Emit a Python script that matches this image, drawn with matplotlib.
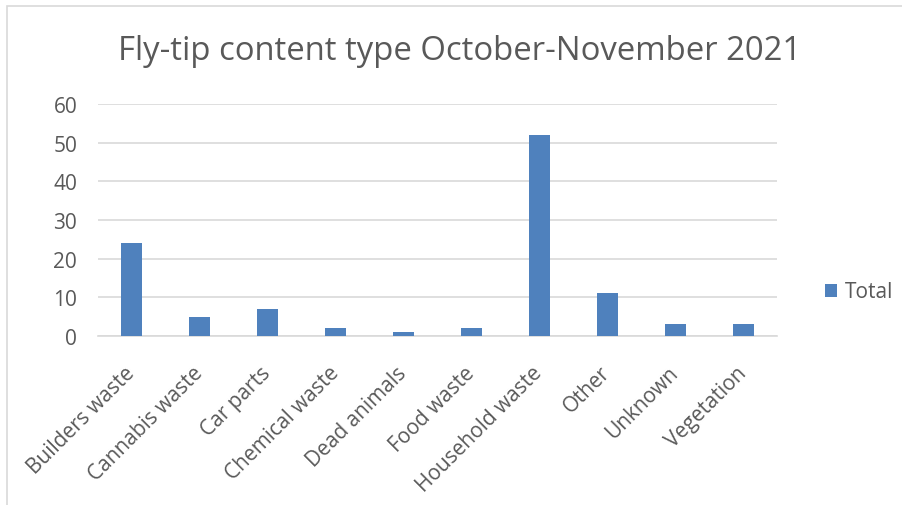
import matplotlib
matplotlib.use("Agg")
from matplotlib import pyplot as plt
from matplotlib.patches import Rectangle

categories = ['Builders waste', 'Cannabis waste', 'Car parts', 'Chemical waste',
              'Dead animals', 'Food waste', 'Household waste', 'Other',
              'Unknown', 'Vegetation']
totals = [24, 5, 7, 2, 1, 2, 52, 11, 3, 3]
yticks = [0, 10, 20, 30, 40, 50, 60]

grey = '#595959'
blue = '#4F81BD'
plt.rcParams['font.family'] = ['Open Sans', 'DejaVu Sans']

fig = plt.figure(figsize=(9.03, 5.06), dpi=100)
ax = fig.add_axes([98 / 903, 1 - 337 / 506, 679 / 903, 232 / 506])

x = range(len(categories))
ax.bar(x, totals, width=0.31, color=blue, label='Total', zorder=3)

ax.set_xlim(-0.5, len(categories) - 0.5)
ax.set_ylim(0, 60)
ax.set_yticks(yticks)
ax.yaxis.grid(True, color='#D9D9D9', linewidth=1.2, zorder=0)
for s in ['top', 'right', 'left']:
    ax.spines[s].set_visible(False)
ax.spines['bottom'].set_color('#D9D9D9')
ax.spines['bottom'].set_linewidth(1.2)
ax.tick_params(axis='both', length=0, labelcolor=grey, labelsize=15)
ax.tick_params(axis='y', pad=15)
ax.set_xticks(list(x))
ax.set_xticklabels(categories, rotation=45, ha='right', va='center',
                   rotation_mode='anchor')
ax.tick_params(axis='x', pad=24)

fig.text(0.509, 1 - 52 / 506, 'Fly-tip content type October-November 2021',
         ha='center', va='center', fontsize=23.7, color=grey)

leg = fig.legend(loc='center left', bbox_to_anchor=(806 / 903, 1 - 293 / 506),
                 frameon=False, fontsize=15, handlelength=0.6, handleheight=0.6,
                 handletextpad=0.35)
for t in leg.get_texts():
    t.set_color(grey)

# outer chart border, as in the source screenshot
fig.patches.append(Rectangle((7 / 903, -0.05), 1.0, 1.05 - 7 / 506,
                             transform=fig.transFigure, fill=False,
                             edgecolor='#D9D9D9', linewidth=1.2))

fig.savefig('out.png', dpi=100)
